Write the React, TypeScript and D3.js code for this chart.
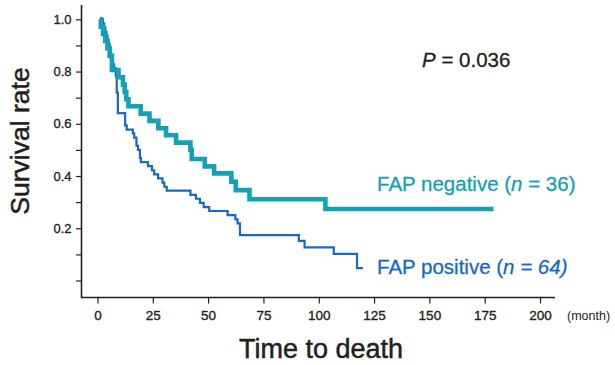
import React, { useEffect, useRef } from "react";
import * as d3 from "d3";

// Kaplan-Meier steps (month, survival after the drop)
const negTimes = [1, 1.5, 2.5, 3.5, 4.5, 5.5, 6.5, 9.5, 11.5, 12.3, 13, 14, 19.5, 23.5, 27.5, 31, 35.5, 42, 42.6, 48.5, 52.7, 60.5, 62.5, 68.7, 103];
const negSurv = [1.0, 0.972, 0.944, 0.917, 0.889, 0.861, 0.806, 0.778, 0.75, 0.722, 0.694, 0.667, 0.639, 0.611, 0.583, 0.556, 0.528, 0.5, 0.465, 0.437, 0.41, 0.378, 0.346, 0.311, 0.274];
const negEnd = 179;

const posTimes = [1, 2.5, 3, 3.5, 4, 4.5, 5, 5.5, 6, 6.5, 7, 7.5, 8.3, 8.7, 9.2, 12.5, 13.2, 16, 16.6, 17.6, 18.3, 19.2, 19.6, 22.8, 24.6, 25.6, 27.4, 29.4, 30.2, 31.3, 42, 44.5, 46.3, 48, 50.5, 58.8, 62.3, 63.3, 64.4, 91, 93.6, 106.8, 117.3];
const posSurv = [1.0, 0.984, 0.969, 0.953, 0.938, 0.922, 0.906, 0.891, 0.859, 0.844, 0.828, 0.813, 0.781, 0.719, 0.641, 0.594, 0.578, 0.563, 0.547, 0.516, 0.5, 0.469, 0.453, 0.438, 0.422, 0.406, 0.391, 0.375, 0.359, 0.344, 0.328, 0.313, 0.297, 0.281, 0.266, 0.25, 0.234, 0.219, 0.174, 0.152, 0.127, 0.102, 0.047];
const posEnd = 120;

const xTicks = [0, 25, 50, 75, 100, 125, 150, 175, 200];
const yTicks = [0, 0.1, 0.2, 0.3, 0.4, 0.5, 0.6, 0.7, 0.8, 0.9, 1.0];
const yLabelled = [0.2, 0.4, 0.6, 0.8, 1.0];

const FONT = "'Liberation Sans', Arial, Helvetica, sans-serif";
const INK = "#231f20";
const TEAL = "#14a0b6";
const BLUE = "#1769c2";

const toSteps = (times, surv, end) => {
    let pts = times.map((t, i) => ({ t: t, s: surv[i] }));
    pts.push({ t: end, s: surv[surv.length - 1] });
    return pts;
};

// slightly heavier text, the original uses a medium weight
const heavy = (sel, color, w) => sel.attr("stroke", color).attr("stroke-width", w).attr("paint-order", "stroke");

function draw(node) {
    const svg = d3.select(node);
    svg.selectAll("*").remove();

    let x = d3.scaleLinear().domain([0, 200]).range([97.5, 540]),
        y = d3.scaleLinear().domain([0, 1]).range([280.5, 19.3]);

    // x axis
    const gx = svg.append("g").attr("transform", "translate(0,297.5)");
    gx.call(d3.axisBottom(x).tickValues(xTicks).tickSize(6).tickPadding(6.5).tickSizeOuter(0));
    gx.select(".domain").remove();
    gx.selectAll("line").attr("stroke", INK).attr("stroke-width", 1.2);
    heavy(gx.selectAll("text").attr("fill", INK).style("font-family", FONT).style("font-size", "13.5px"), INK, 0.35);
    gx.append("line").attr("x1", 81.5).attr("x2", 555).attr("stroke", INK).attr("stroke-width", 1.6);

    // y axis
    const gy = svg.append("g").attr("transform", "translate(81.5,0)");
    gy.call(d3.axisLeft(y).tickValues(yTicks).tickSize(5.5).tickPadding(4.5).tickSizeOuter(0)
        .tickFormat(d => yLabelled.some(v => Math.abs(v - d) < 1e-6) ? d3.format(".1f")(d) : ""));
    gy.select(".domain").remove();
    gy.selectAll("line").attr("stroke", INK).attr("stroke-width", 1.2);
    heavy(gy.selectAll("text").attr("fill", INK).style("font-family", FONT).style("font-size", "13px"), INK, 0.35);
    gy.append("line").attr("y1", 5).attr("y2", 298.3).attr("stroke", INK).attr("stroke-width", 1.6);

    // curves
    const line = d3.line().curve(d3.curveStepAfter).x(d => x(d.t)).y(d => y(d.s));
    svg.append("path")
        .attr("d", line(toSteps(posTimes, posSurv, posEnd)))
        .attr("fill", "none").attr("stroke", BLUE).attr("stroke-width", 2.2);
    svg.append("path")
        .attr("d", line(toSteps(negTimes, negSurv, negEnd)))
        .attr("fill", "none").attr("stroke", TEAL).attr("stroke-width", 4.6);

    // labels
    svg.append("text").attr("x", 567).attr("y", 319.5).attr("fill", INK)
        .style("font-family", FONT).style("font-size", "12.5px").text("(month)");

    heavy(svg.append("text").attr("x", 321).attr("y", 358).attr("text-anchor", "middle").attr("fill", INK)
        .style("font-family", FONT).style("font-size", "27px").text("Time to death"), INK, 0.5);

    heavy(svg.append("text").attr("transform", "translate(28.5,141) rotate(-90)").attr("text-anchor", "middle").attr("fill", INK)
        .style("font-family", FONT).style("font-size", "26.5px").text("Survival rate"), INK, 0.5);

    const p = heavy(svg.append("text").attr("x", 422).attr("y", 66.5).attr("fill", INK)
        .style("font-family", FONT).style("font-size", "20.5px"), INK, 0.3);
    p.append("tspan").style("font-style", "italic").text("P");
    p.append("tspan").text(" = 0.036");

    const neg = heavy(svg.append("text").attr("x", 377).attr("y", 191).attr("fill", TEAL)
        .style("font-family", FONT).style("font-size", "20.5px"), TEAL, 0.3);
    neg.append("tspan").text("FAP negative (");
    neg.append("tspan").style("font-style", "italic").text("n");
    neg.append("tspan").text(" = 36)");

    const pos = heavy(svg.append("text").attr("x", 377).attr("y", 273.5).attr("fill", BLUE)
        .style("font-family", FONT).style("font-size", "20.5px"), BLUE, 0.3);
    pos.append("tspan").text("FAP positive (");
    pos.append("tspan").style("font-style", "italic").text("n = 64)");
}

export default function App() {
    const ref = useRef(null);
    useEffect(() => { draw(ref.current); });
    return (
        <svg ref={ref} width={615} height={365}
            style={{ position: "absolute", left: 0, top: 0, background: "#fff" }} />
    );
}
